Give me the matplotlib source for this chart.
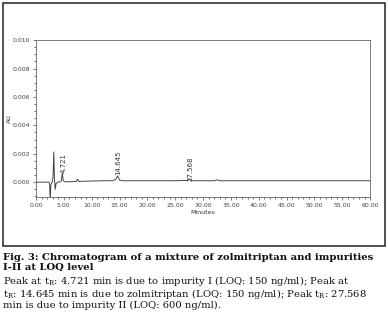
import numpy as np
import matplotlib
matplotlib.use("Agg")
import matplotlib.pyplot as plt
from matplotlib.patches import Rectangle
from matplotlib.ticker import MultipleLocator

# chromatogram trace (minutes, AU)
time_min = [0.0, 2.3, 2.45, 2.55, 2.65, 2.9, 3.05, 3.2, 3.3, 3.45, 3.6, 3.9,
            4.3, 4.55, 4.72, 4.9, 5.2, 6.0, 7.2, 7.45, 7.7, 9.0, 12.0, 13.8,
            14.3, 14.65, 15.0, 15.5, 20.0, 25.0, 27.2, 27.57, 27.9, 30.0,
            32.0, 32.5, 33.0, 35.0, 40.0, 50.0, 60.0]
absorb_au = [0.0, 0.0, -0.0001, -0.0015, -0.0002, 0.0, 0.0003, 0.00213, 0.0003,
             -0.0005, -0.0001, 0.0, 0.00002, 0.0001, 0.00063, 0.0001, 0.00002,
             0.00003, 0.00005, 0.0002, 0.00005, 0.00007, 0.0001, 0.0001,
             0.0002, 0.00044, 0.00015, 0.0001, 0.0001, 0.0001, 0.00012,
             0.0002, 0.0001, 0.0001, 0.0001, 0.00016, 0.0001, 0.0001,
             0.0001, 0.0001, 0.0001]

peak_times = [4.721, 14.645, 27.568]
peak_labels = ["4.721", "14.645", "27.568"]
label_bottoms = [0.00068, 0.00050, 0.00005]

caption = [
    ("Fig. 3: Chromatogram of a mixture of zolmitriptan and impurities", "bold"),
    ("I-II at LOQ level", "bold"),
    ("Peak at t$_\\mathregular{R}$: 4.721 min is due to impurity I (LOQ: 150 ng/ml); Peak at", "normal"),
    ("t$_\\mathregular{R}$: 14.645 min is due to zolmitriptan (LOQ: 150 ng/ml); Peak t$_\\mathregular{R}$: 27.568", "normal"),
    ("min is due to impurity II (LOQ: 600 ng/ml).", "normal"),
]

fig = plt.figure(figsize=(3.88, 3.29), dpi=100)
fig.patches.append(Rectangle((0.008, 0.253), 0.984, 0.738, transform=fig.transFigure,
                             fill=False, edgecolor="#222222", linewidth=1.1))

ax = fig.add_axes([0.0928, 0.401, 0.861, 0.477])
ax.plot(time_min, absorb_au, color="#444444", linewidth=0.7)

for t, lab, yb in zip(peak_times, peak_labels, label_bottoms):
    ax.text(t + 0.2, yb, lab, rotation=90, ha="center", va="bottom",
            fontsize=5, color="#333333")

ax.set_xlim(0, 60)
ax.set_ylim(-0.00105, 0.010)
ax.set_xticks(np.arange(0, 61, 5))
ax.set_xticklabels(["%.2f" % v for v in np.arange(0, 61, 5)])
ax.set_yticks(np.arange(0, 0.0101, 0.002))
ax.set_yticklabels(["%.3f" % v for v in np.arange(0, 0.0101, 0.002)])
ax.xaxis.set_minor_locator(MultipleLocator(1))
ax.yaxis.set_minor_locator(MultipleLocator(0.0005))
ax.tick_params(labelsize=4.5, colors="#444444", length=2.5, width=0.5, pad=1.5)
ax.tick_params(which="minor", length=1.2, width=0.4)
for s in ax.spines.values():
    s.set_color("#666666")
    s.set_linewidth(0.6)
ax.set_xlabel("Minutes", fontsize=4.5, color="#333333", labelpad=2)
ax.set_ylabel("AU", fontsize=4.5, color="#333333")
ax.yaxis.set_label_coords(-0.072, 0.5)

line_y = [0.218, 0.186, 0.146, 0.107, 0.071]
for (line, w), yy in zip(caption, line_y):
    fig.text(0.008, yy, line, fontsize=7.2, fontweight=w,
             family="DejaVu Serif", color="#111111", va="center")

fig.savefig("out.png", dpi=100)
